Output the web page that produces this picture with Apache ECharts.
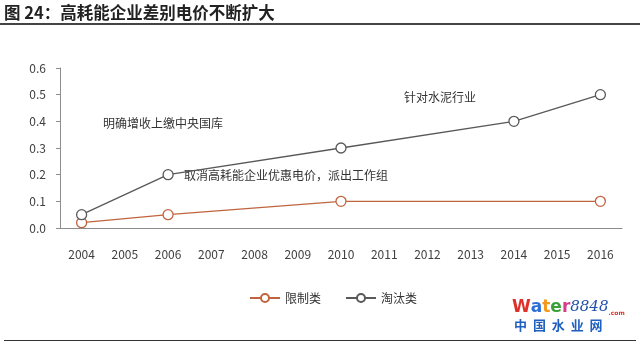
<!DOCTYPE html>
<html>
<head>
<meta charset="utf-8">
<script src="https://cdn.jsdelivr.net/npm/echarts@6/dist/echarts.min.js"></script>
<style>
  html, body { margin: 0; padding: 0; background: #fff; }
  #chart { width: 640px; height: 343px; }
</style>
</head>
<body>
<div id="chart"></div>
<script>
// Differential electricity price for energy-intensive enterprises (yuan/kWh)
const years = ['2004', '2005', '2006', '2007', '2008', '2009', '2010', '2011', '2012', '2013', '2014', '2015', '2016'];
const restricted = [0.02, null, 0.05, null, null, null, 0.1, null, null, null, null, null, 0.1];
const eliminated = [0.05, null, 0.2, null, null, null, 0.3, null, null, null, 0.4, null, 0.5];
const yTicks = [0, 0.1, 0.2, 0.3, 0.4, 0.5, 0.6];
const seriesNames = ['限制类', '淘汰类'];
const notes = ['明确增收上缴中央国库', '取消高耗能企业优惠电价，派出工作组', '针对水泥行业'];

const FONT = '"Noto Sans CJK SC", "Noto Sans", sans-serif';
const chart = echarts.init(document.getElementById('chart'), null, { renderer: 'canvas' });

function lineSeries(name, data, color, z) {
  return {
    name: name,
    type: 'line',
    data: data,
    connectNulls: true,
    showSymbol: true,
    showAllSymbol: true,
    symbol: 'circle',
    symbolSize: 10,
    color: color,
    lineStyle: { width: 1.3, color: color },
    itemStyle: { color: '#fff', borderColor: color, borderWidth: 1.3 },
    z: z
  };
}

chart.setOption({
  animation: false,
  backgroundColor: '#fff',
  textStyle: { fontFamily: FONT },
  grid: { left: 60, right: 18, top: 68, bottom: 115, containLabel: false },
  legend: {
    left: 244,
    top: 287,
    itemWidth: 30,
    itemHeight: 10,
    itemGap: 24,
    textStyle: { fontSize: 12, color: '#333', fontFamily: FONT },
    data: seriesNames
  },
  xAxis: {
    type: 'category',
    data: years,
    boundaryGap: true,
    axisLine: { lineStyle: { color: '#8c8c8c', width: 1 } },
    axisTick: { show: false },
    axisLabel: { color: '#404040', fontSize: 12, margin: 20, interval: 0, fontFamily: FONT }
  },
  yAxis: {
    type: 'value',
    min: yTicks[0],
    max: yTicks[yTicks.length - 1],
    interval: 0.1,
    splitLine: { show: false },
    axisLine: { show: true, lineStyle: { color: '#8c8c8c', width: 1 } },
    axisTick: { show: true, length: 4, lineStyle: { color: '#8c8c8c' } },
    axisLabel: { color: '#404040', fontSize: 12, margin: 14, formatter: v => v.toFixed(1), fontFamily: FONT }
  },
  series: [
    lineSeries(seriesNames[0], restricted, '#c0643f', 3),
    lineSeries(seriesNames[1], eliminated, '#595959', 4)
  ],
  graphic: [
    // heading and rules
    { type: 'text', left: 4, top: 4, style: { text: '图 24：高耗能企业差别电价不断扩大', font: 'bold 16.5px ' + FONT, fill: '#222' } },
    { type: 'rect', shape: { x: 0, y: 23, width: 640, height: 2 }, style: { fill: '#444' } },
    { type: 'rect', shape: { x: 4, y: 340, width: 632, height: 1 }, style: { fill: '#333' } },
    // notes
    { type: 'text', left: 103, top: 117, style: { text: notes[0], font: '12px ' + FONT, fill: '#333' } },
    { type: 'text', left: 184, top: 169, style: { text: notes[1], font: '12px ' + FONT, fill: '#333' } },
    { type: 'text', left: 404, top: 91, style: { text: notes[2], font: '12px ' + FONT, fill: '#333' } },
    // site mark
    {
      type: 'text', left: 512, top: 299,
      style: {
        text: '{w|W}{a|a}{t|t}{e|e}{r|r}{n|8848}{c|.com}',
        rich: {
          w: { font: 'bold 17px "DejaVu Sans", sans-serif', fill: '#e0302a' },
          a: { font: 'bold 17px "DejaVu Sans", sans-serif', fill: '#2b6fd6' },
          t: { font: 'bold 17px "DejaVu Sans", sans-serif', fill: '#f39a1c' },
          e: { font: 'bold 17px "DejaVu Sans", sans-serif', fill: '#3aa13a' },
          r: { font: 'bold 17px "DejaVu Sans", sans-serif', fill: '#d83a8c' },
          n: { font: 'italic 15px "DejaVu Serif", serif', fill: '#2050a8' },
          c: { font: 'bold 6px "DejaVu Sans", sans-serif', fill: '#e0302a', verticalAlign: 'bottom' }
        }
      }
    },
    { type: 'text', left: 514, top: 319, style: { text: '中  国  水  业  网', font: 'bold 13px ' + FONT, fill: '#1f5fbf' } }
  ]
});
</script>
</body>
</html>
